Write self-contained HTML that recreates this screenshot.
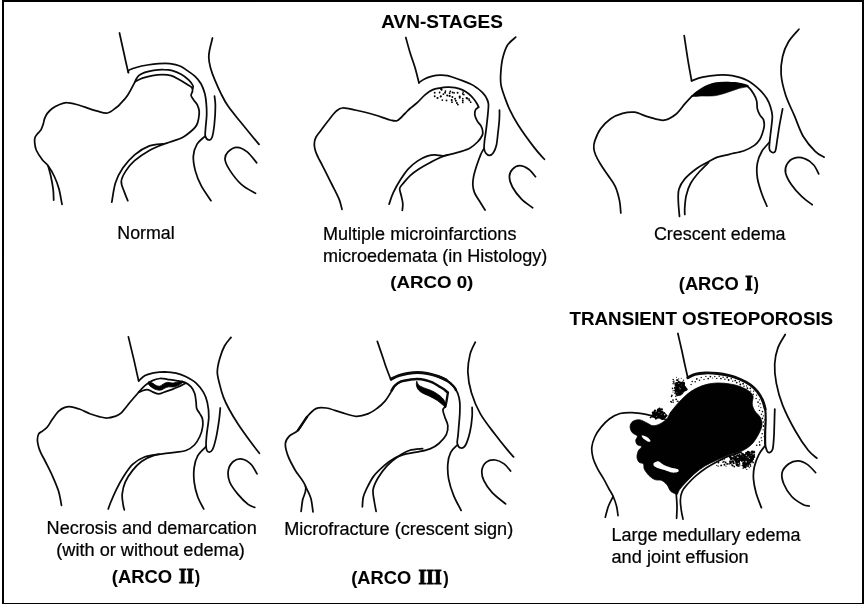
<!DOCTYPE html>
<html><head><meta charset="utf-8"><title>AVN-Stages</title>
<style>
html,body{margin:0;padding:0;background:#fff;}
body{width:866px;height:604px;overflow:hidden;position:relative;font-family:"Liberation Sans",sans-serif;color:#000;}
svg{position:absolute;left:0;top:0;will-change:transform;opacity:0.999;}
.t{position:absolute;white-space:nowrap;line-height:1;color:#0a0a0a;}
.b{font-weight:bold;}
.r{font-family:"Liberation Serif",serif;font-weight:bold;}
</style></head><body>
<svg width="866" height="604" viewBox="0 0 866 604">
<rect x="0" y="0" width="866" height="604" fill="#fff"/>
<path d="M3 604V1H863V603.9H3" fill="none" stroke="#000" stroke-width="2"/>
<g fill="none" stroke="#0a0a0a" stroke-width="1.75" stroke-linecap="round" stroke-linejoin="round">
<!-- hip1 -->
<path d="M119.5 33.0C120.2 36.2 122.3 45.9 123.8 52.5C125.2 59.1 127.5 69.2 128.3 72.6"/>
<path d="M128.5 72.4C128.6 72.0 127.6 71.0 128.9 70.2C130.2 69.4 133.1 68.4 136.2 67.5C139.3 66.6 143.7 65.6 147.4 65.0C151.2 64.4 154.9 63.9 158.7 63.7C162.4 63.5 166.4 63.3 169.9 63.7C173.4 64.1 177.0 64.8 179.9 66.0C182.8 67.2 184.8 68.9 187.3 70.6C189.8 72.3 192.5 74.0 194.8 76.2C197.1 78.4 199.3 80.8 201.0 83.7C202.7 86.6 203.9 90.3 204.8 93.6C205.7 96.9 206.0 100.1 206.3 103.6C206.6 107.1 206.8 110.7 206.7 114.8C206.6 118.9 205.8 124.5 205.6 128.0C205.4 131.5 204.8 134.0 205.3 136.0C205.8 138.0 207.6 139.8 208.8 140.0C209.9 140.2 211.1 140.0 212.0 137.5C212.9 135.0 213.7 130.2 214.3 125.0C214.9 119.8 215.4 110.9 215.4 106.1C215.4 101.3 214.7 97.8 214.5 96.1"/>
<path d="M135.4 80.6C135.9 79.8 137.1 77.0 138.7 75.6C140.3 74.2 142.4 73.3 144.9 72.4C147.4 71.5 150.6 70.8 153.7 70.3C156.8 69.8 160.5 69.5 163.6 69.6C166.7 69.6 169.5 69.8 172.4 70.6C175.3 71.4 178.4 72.8 181.1 74.3C183.8 75.8 186.6 78.0 188.6 79.9C190.6 81.8 192.2 84.0 192.9 85.5C193.6 87.0 192.7 88.2 192.7 88.7"/>
<path d="M135.0 81.8C133.8 84.1 130.0 91.8 127.5 95.5C125.0 99.2 121.9 102.2 120.0 104.2C118.1 106.2 118.3 106.0 116.2 107.5C114.2 109.0 110.6 112.4 107.5 113.0C104.4 113.6 100.4 111.9 97.5 111.2C94.6 110.6 93.2 109.9 90.0 108.9C86.8 107.9 82.4 106.0 78.5 105.0C74.6 104.0 69.9 102.6 66.7 102.6C63.5 102.5 61.5 103.7 59.1 104.7C56.7 105.7 54.2 107.0 52.2 108.5C50.2 110.0 48.6 111.7 47.3 113.4C46.0 115.1 45.3 116.8 44.6 118.6C43.9 120.4 43.8 122.3 43.2 124.1C42.6 125.9 42.0 128.0 41.1 129.6C40.2 131.2 38.6 132.4 37.6 133.6C36.6 134.8 35.7 135.7 35.2 137.0C34.7 138.3 34.4 139.3 34.6 141.5C34.8 143.7 34.9 146.9 36.2 150.0C37.6 153.1 40.5 157.4 42.5 160.0C44.5 162.6 46.1 163.0 48.1 165.8C50.1 168.6 52.8 173.1 54.6 177.0C56.4 180.9 57.8 184.4 59.0 189.0C60.2 193.6 61.5 201.8 62.0 204.3"/>
<path d="M48.1 165.8C48.6 167.7 50.2 173.2 51.0 177.0C51.8 180.8 52.6 185.1 53.1 188.9C53.6 192.8 53.6 198.2 53.7 200.1"/>
<path d="M135.0 81.8C136.2 81.2 139.5 79.1 142.4 78.1C145.3 77.1 149.1 76.2 152.4 75.6C155.7 75.0 159.3 74.7 162.4 74.7C165.5 74.7 168.4 74.8 171.1 75.6C173.8 76.4 176.1 77.9 178.6 79.3C181.1 80.7 183.9 82.3 186.1 83.7C188.3 85.1 190.6 86.2 191.7 87.4C192.8 88.6 192.6 89.8 192.5 91.1C192.4 92.4 190.9 94.0 191.1 95.5C191.3 97.0 192.6 98.3 193.6 99.9C194.6 101.5 196.4 103.0 197.3 104.9C198.2 106.8 199.0 108.8 199.2 111.1C199.4 113.4 199.0 116.3 198.6 118.6C198.2 120.9 197.7 123.1 196.7 125.0C195.7 126.9 194.9 127.9 192.5 130.0C190.1 132.1 186.2 135.5 182.5 137.5C178.8 139.5 173.0 140.9 170.0 142.0C167.0 143.1 167.7 142.5 164.3 143.9C160.9 145.3 154.4 147.6 149.4 150.4C144.4 153.2 138.5 157.2 134.6 160.7C130.7 164.1 127.9 167.6 125.7 171.1C123.5 174.6 121.5 178.0 121.3 181.5C121.1 185.0 123.2 188.7 124.3 191.9C125.4 195.1 127.2 199.2 127.8 200.7"/>
<path d="M162.8 143.9C160.6 144.2 154.1 144.1 149.4 145.9C144.7 147.7 139.0 151.1 134.6 154.8C130.2 158.5 126.0 163.4 122.8 168.1C119.6 172.8 117.2 177.3 115.4 183.0C113.6 188.7 112.4 199.0 111.8 202.2"/>
<path d="M212.5 38.0C212.0 40.0 210.2 46.8 209.6 50.0C209.0 53.2 208.7 54.6 208.8 57.5C208.9 60.4 209.4 63.8 210.4 67.5C211.4 71.2 213.0 75.6 214.8 79.9C216.6 84.2 218.8 89.2 221.0 93.6C223.2 98.0 224.7 101.3 228.0 106.1C231.3 110.9 235.8 116.1 241.0 122.5C246.2 128.9 256.0 140.8 259.0 144.4"/>
<path d="M205.3 136.0C203.9 137.4 198.9 141.0 196.9 144.4C194.9 147.8 193.6 151.9 193.3 156.3C193.1 160.8 194.1 166.2 195.4 171.1C196.7 176.0 198.7 181.0 201.3 185.9C203.9 190.8 209.4 198.2 211.0 200.7"/>
<path d="M256.7 162.8C255.1 161.0 250.5 154.5 247.2 151.9C243.9 149.3 240.1 147.4 236.9 147.4C233.7 147.4 230.0 149.9 228.0 151.9C226.0 153.9 224.8 156.4 225.0 159.3C225.2 162.2 226.7 165.4 229.4 169.6C232.1 173.8 237.0 180.4 241.3 184.4C245.7 188.4 253.1 191.8 255.5 193.3"/>
<!-- hip2 -->
<path d="M405.8 37.5C406.5 40.0 408.5 47.5 410.0 52.5C411.5 57.5 413.5 62.4 415.0 67.5C416.5 72.6 418.3 80.4 419.0 83.0"/>
<path d="M418.9 82.6C419.9 81.9 422.8 79.8 425.0 78.7C427.2 77.6 429.9 76.8 432.4 76.2C434.9 75.6 437.4 75.3 439.9 75.2C442.4 75.1 445.1 75.2 447.4 75.6C449.7 76.0 451.1 76.7 453.6 77.5C456.1 78.3 459.5 79.5 462.4 80.6C465.3 81.7 468.6 83.0 471.1 84.3C473.6 85.5 475.4 86.8 477.3 88.1C479.2 89.4 480.8 90.9 482.3 92.4C483.8 94.0 485.1 95.5 486.1 97.4C487.1 99.3 488.1 100.9 488.4 103.6C488.7 106.3 488.2 110.1 487.9 113.6C487.6 117.1 487.1 121.2 486.7 124.8C486.3 128.4 485.8 132.4 485.4 135.0C485.0 137.6 484.8 138.2 484.6 140.4C484.4 142.6 483.9 146.2 484.1 148.3C484.3 150.4 484.8 151.8 485.7 153.0C486.6 154.2 488.1 155.4 489.3 155.4C490.6 155.4 492.0 154.7 493.2 153.0C494.4 151.3 495.6 148.6 496.4 145.2C497.2 141.8 497.5 136.8 498.0 132.6C498.5 128.4 499.1 123.8 499.3 120.0C499.6 116.2 499.5 111.7 499.5 110.0"/>
<path d="M478.6 107.1C478.4 106.6 478.1 105.7 477.3 104.3C476.5 102.9 475.1 100.5 473.6 98.7C472.2 96.9 470.5 95.2 468.6 93.7C466.7 92.2 464.7 90.9 462.4 89.9C460.1 88.9 457.4 88.2 454.9 87.7C452.4 87.2 449.9 87.1 447.4 87.2C444.9 87.3 442.4 87.6 439.9 88.1C437.4 88.5 434.9 88.8 432.4 89.9C429.9 91.0 427.5 92.8 425.0 94.9C422.5 97.0 420.0 100.1 417.5 102.4C415.0 104.7 412.1 106.7 410.0 108.5C407.9 110.3 407.1 111.5 405.0 113.5C402.9 115.5 400.0 119.4 397.5 120.5C395.0 121.6 393.8 120.9 390.0 120.0C386.2 119.1 380.8 116.7 375.0 115.0C369.2 113.3 360.4 111.2 355.0 110.0C349.6 108.8 345.6 107.8 342.5 108.0C339.4 108.2 338.5 109.2 336.2 111.2C334.0 113.2 331.2 116.9 328.8 120.0C326.2 123.1 323.4 127.1 321.2 130.0C319.1 132.9 317.0 135.2 315.8 137.5C314.6 139.8 314.4 141.8 314.3 144.0C314.2 146.2 314.7 148.2 315.3 150.5C315.9 152.8 316.9 154.9 318.2 157.5C319.4 160.1 320.6 161.9 322.8 166.3C325.1 170.7 329.0 178.6 331.7 184.0C334.4 189.4 337.3 194.7 339.0 198.9C340.7 203.1 341.5 207.6 342.0 209.3"/>
<path d="M478.6 107.1C478.1 107.6 476.1 108.6 475.5 109.9C474.9 111.2 474.5 113.0 474.8 114.9C475.1 116.8 476.2 119.2 477.3 121.1C478.4 123.0 480.2 124.4 481.1 126.1C482.0 127.8 482.5 129.5 482.7 131.1C482.9 132.7 483.1 133.7 482.2 135.5C481.3 137.3 479.6 139.9 477.5 142.0C475.4 144.1 472.8 146.6 469.7 148.3C466.6 150.0 462.0 151.1 458.6 152.2C455.2 153.2 451.8 154.0 449.2 154.6C446.6 155.2 445.3 155.8 442.9 155.9C440.5 156.0 437.6 154.9 435.0 154.9C432.4 154.9 430.1 155.2 427.2 156.2C424.3 157.2 420.8 158.8 417.7 160.9C414.6 163.0 411.2 165.7 408.3 168.8C405.4 172.0 402.9 175.9 400.4 179.8C397.9 183.7 395.3 188.4 393.4 192.4C391.5 196.4 389.8 202.2 389.1 204.1"/>
<path d="M447.6 154.9C446.3 155.4 442.7 156.4 439.8 157.7C436.9 159.0 433.7 160.7 430.3 162.5C426.9 164.3 422.7 166.6 419.3 168.8C415.9 171.0 412.5 173.5 409.9 175.8C407.3 178.2 405.3 180.8 403.6 182.9C401.9 185.0 400.1 186.3 399.7 188.4C399.3 190.5 400.7 193.0 401.2 195.5C401.7 198.0 402.6 200.9 402.8 203.4C403.0 205.9 402.4 209.2 402.3 210.4"/>
<path d="M515.7 37.2C514.3 38.5 509.6 41.7 507.4 45.2C505.2 48.8 503.7 54.0 502.6 58.5C501.5 63.0 501.1 68.1 500.8 72.5C500.5 76.9 500.3 80.8 501.0 84.9C501.7 89.1 503.3 93.2 504.8 97.4C506.3 101.6 507.6 105.3 509.8 109.9C512.0 114.5 514.0 118.5 518.0 124.8C522.0 131.1 529.7 141.7 534.1 147.4C538.5 153.2 542.7 157.3 544.4 159.3"/>
<path d="M484.1 148.3C483.5 149.4 481.9 151.7 480.7 154.6C479.5 157.5 477.9 161.9 476.7 165.6C475.5 169.3 474.2 173.4 473.6 176.6C473.0 179.8 472.7 181.9 472.8 184.5C472.9 187.1 473.2 189.4 474.4 192.3C475.6 195.2 478.1 198.9 479.9 201.8C481.7 204.8 484.2 208.6 485.1 210.0"/>
<path d="M535.5 176.7C534.4 175.5 531.3 171.1 528.7 169.3C526.1 167.5 522.5 165.7 519.8 165.7C517.1 165.7 514.1 167.5 512.4 169.3C510.7 171.1 509.4 173.8 509.4 176.7C509.4 179.6 510.4 183.3 512.4 187.0C514.4 190.7 517.9 195.4 521.3 198.9C524.7 202.4 530.7 206.3 532.6 207.8"/>
<!-- hip3 -->
<path d="M684.2 35.7C684.8 39.7 686.6 51.9 687.8 59.4C689.0 66.9 691.0 77.2 691.6 80.8"/>
<path d="M691.6 80.8C693.4 80.2 698.3 78.2 702.6 77.2C706.9 76.2 712.5 75.3 717.4 75.1C722.3 74.8 727.3 74.8 732.2 75.7C737.1 76.6 742.5 78.0 747.0 80.2C751.5 82.4 755.6 86.0 758.9 89.1C762.2 92.1 764.9 95.5 766.8 98.5C768.7 101.5 769.6 104.1 770.5 107.0C771.4 109.9 772.1 112.7 772.3 115.7C772.5 118.7 771.9 121.8 771.6 125.0C771.3 128.2 770.8 131.1 770.4 135.0C770.0 138.9 769.1 145.5 769.3 148.3C769.4 151.1 770.3 151.4 771.3 151.9C772.3 152.4 774.2 153.4 775.2 151.3C776.2 149.2 776.6 143.9 777.3 139.4C778.0 134.9 778.7 129.7 779.6 124.6C780.5 119.5 782.1 111.5 782.6 108.9"/>
<path d="M691.6 96.5C690.5 97.7 687.4 100.9 684.8 103.9C682.2 106.9 679.3 111.6 675.9 114.3C672.5 117.0 668.5 119.7 664.1 120.2C659.7 120.7 654.2 118.5 649.3 117.2C644.3 115.9 638.8 112.8 634.4 112.2C630.0 111.6 626.5 112.3 622.6 113.4C618.7 114.5 614.4 116.1 610.7 118.7C607.0 121.3 603.0 125.4 600.4 129.1C597.8 132.8 595.9 137.8 594.8 140.9C593.7 144.1 593.7 145.7 593.8 148.0C593.9 150.3 594.5 152.3 595.6 155.0C596.7 157.7 598.4 160.7 600.4 164.0C602.4 167.3 605.3 171.3 607.8 175.0C610.3 178.7 613.2 182.0 615.2 186.3C617.2 190.7 618.7 196.7 619.6 201.1C620.5 205.5 620.6 211.0 620.8 213.0"/>
<path d="M691.6 96.5C693.4 95.3 698.8 91.2 702.6 89.1C706.4 87.0 710.0 84.8 714.4 83.7C718.8 82.6 724.8 82.5 729.3 82.6C733.8 82.6 738.0 83.3 741.1 84.0C744.2 84.7 745.9 85.2 748.0 86.8C750.1 88.4 752.1 91.3 753.6 93.7C755.1 96.1 756.1 98.6 756.7 101.1C757.3 103.6 756.8 106.3 757.3 108.6C757.8 110.9 758.8 113.0 759.8 114.9C760.8 116.8 762.8 118.0 763.5 119.9C764.2 121.8 764.4 123.9 764.2 126.1C764.0 128.3 763.3 130.7 762.5 133.0C761.7 135.3 761.0 137.7 759.6 139.8C758.2 141.9 757.0 143.6 754.4 145.4C751.8 147.2 748.3 149.2 744.1 150.7C739.9 152.2 733.8 153.2 729.3 154.3C724.8 155.4 720.9 156.0 717.4 157.2C713.9 158.4 712.0 159.8 708.5 161.7C705.0 163.6 700.7 165.6 696.7 168.5C692.8 171.4 687.8 175.4 684.8 178.9C681.8 182.4 680.0 185.6 678.9 189.3C677.8 193.0 678.2 196.6 678.3 201.1C678.4 205.6 679.3 213.9 679.5 216.5"/>
<path d="M708.5 162.6C707.0 164.1 702.6 168.1 699.6 171.5C696.6 174.9 692.9 179.4 690.7 183.3C688.5 187.2 687.3 191.2 686.3 195.2C685.3 199.1 685.0 203.8 684.8 207.0C684.5 210.2 684.8 213.2 684.8 214.4"/>
<path d="M692.2 95.8C692.2 94.4 698.9 89.7 702.6 87.6C706.3 85.5 710.0 84.0 714.4 83.1C718.8 82.2 724.8 82.3 729.3 82.4C733.8 82.5 737.9 82.9 741.1 83.5C744.3 84.1 749.0 85.2 748.5 86.1C748.0 87.0 741.8 87.6 738.1 88.7C734.4 89.8 730.2 91.6 726.3 92.8C722.3 94.0 718.3 95.3 714.4 95.8C710.5 96.3 706.3 96.0 702.6 96.0C698.9 96.0 692.2 97.2 692.2 95.8Z" fill="#000" stroke="#000" stroke-width="0.6"/>
<path d="M798.9 29.2C797.2 31.3 791.2 37.2 788.5 41.7C785.8 46.2 783.8 51.1 782.6 56.5C781.4 61.9 780.6 67.9 781.1 74.3C781.6 80.7 783.4 88.1 785.6 95.0C787.8 101.9 791.5 108.8 794.4 115.7C797.3 122.6 799.8 130.6 803.3 136.5C806.8 142.4 811.7 147.9 815.2 151.3C818.7 154.8 822.6 156.2 824.1 157.2"/>
<path d="M769.3 142.4C768.1 143.9 763.9 147.9 761.9 151.3C759.9 154.8 758.1 158.7 757.4 163.1C756.6 167.5 756.6 172.8 757.4 178.0C758.1 183.2 760.3 189.3 761.9 194.0C763.5 198.7 766.1 204.1 766.9 206.1"/>
<path d="M818.7 173.9C817.9 172.4 816.0 167.5 813.7 165.0C811.4 162.5 808.0 159.8 804.8 158.7C801.6 157.5 797.4 157.2 794.4 158.1C791.4 159.0 788.5 161.6 787.0 164.1C785.5 166.6 784.9 169.6 785.6 173.0C786.4 176.4 788.8 180.9 791.5 184.8C794.2 188.8 798.4 193.4 801.9 196.7C805.4 200.0 810.5 203.4 812.2 204.7"/>
<!-- hip4 -->
<path d="M128.4 336.9C129.3 340.8 132.4 353.3 134.1 360.6C135.8 367.9 137.8 377.5 138.6 380.9"/>
<path d="M138.7 381.0C139.8 380.1 142.5 377.0 145.0 375.6C147.5 374.2 150.4 373.4 153.7 372.8C157.0 372.2 161.2 371.8 164.9 371.8C168.6 371.9 172.6 372.3 176.1 373.1C179.6 373.9 182.8 375.1 186.1 376.8C189.4 378.5 193.2 380.5 196.1 383.1C199.0 385.7 201.6 389.2 203.5 392.4C205.4 395.6 206.4 398.3 207.3 402.4C208.2 406.5 208.9 411.5 208.8 416.9C208.7 422.3 207.1 429.7 206.7 434.6C206.2 439.5 205.9 443.6 206.1 446.5C206.3 449.4 207.0 451.3 208.1 451.8C209.2 452.3 211.3 451.8 212.6 449.4C213.9 447.0 215.0 442.5 216.1 437.6C217.2 432.7 218.4 424.7 219.1 419.8C219.8 414.9 220.1 410.0 220.3 408.0"/>
<path d="M138.7 392.2C137.2 393.9 132.8 399.0 129.8 402.5C126.9 406.0 123.5 410.8 121.0 413.1C118.5 415.4 117.1 415.6 114.8 416.4C112.5 417.2 109.8 417.9 107.3 418.0C104.8 418.1 102.7 417.5 99.8 416.8C96.9 416.1 93.2 414.9 89.9 413.7C86.6 412.4 83.0 410.4 79.9 409.3C76.8 408.2 73.6 407.1 71.1 406.8C68.6 406.5 67.0 406.7 64.9 407.4C62.8 408.1 60.8 409.2 58.7 411.2C56.6 413.2 54.3 416.7 52.4 419.3C50.5 421.9 49.1 424.8 47.5 426.8C45.9 428.8 44.0 429.9 42.5 431.1C41.0 432.3 39.6 432.3 38.7 433.8C37.9 435.3 37.4 437.6 37.4 439.9C37.4 442.1 38.1 445.0 38.7 447.3C39.3 449.6 40.1 451.2 41.2 453.6C42.4 456.1 43.7 458.2 45.6 462.0C47.5 465.8 50.5 471.4 52.6 476.3C54.8 481.2 57.0 486.3 58.5 491.1C60.0 495.9 61.0 502.9 61.5 505.3"/>
<path d="M138.7 392.2C139.7 391.1 142.6 387.5 144.9 385.6C147.2 383.7 149.9 381.8 152.4 380.6C154.9 379.4 157.4 378.7 159.9 378.5C162.4 378.3 164.7 378.9 167.4 379.3C170.1 379.7 173.2 380.1 176.1 380.6C179.0 381.1 182.3 381.4 184.8 382.4C187.3 383.4 189.4 384.9 191.1 386.8C192.8 388.7 194.0 391.1 194.8 393.7C195.6 396.3 195.8 399.9 196.1 402.4C196.4 404.9 196.1 406.7 196.7 408.6C197.3 410.5 198.9 411.9 199.8 413.6C200.8 415.3 201.9 416.6 202.4 418.8C202.9 421.0 203.0 424.1 202.6 427.0C202.2 429.9 201.2 433.5 199.8 436.5C198.4 439.5 196.7 442.7 194.4 445.0C192.1 447.3 190.3 449.1 185.9 450.5C181.5 451.9 173.5 452.3 168.1 453.2C162.7 454.1 157.7 454.2 153.3 455.6C148.9 457.0 144.9 459.0 141.5 461.5C138.1 464.0 135.3 466.9 132.6 470.4C129.9 473.8 126.9 478.2 125.2 482.2C123.5 486.1 122.6 490.4 122.2 494.1C121.8 497.8 122.8 501.8 123.1 504.4C123.4 507.0 124.1 508.9 124.3 509.8"/>
<path d="M159.3 454.1C156.8 454.6 148.9 455.3 144.4 457.0C139.9 458.7 136.0 461.2 132.6 464.4C129.2 467.6 126.4 472.1 123.7 476.3C121.0 480.5 118.5 485.2 116.3 489.6C114.1 494.1 111.7 499.8 110.4 503.0C109.1 506.2 108.7 507.9 108.3 508.9"/>
<path d="M138.7 392.2C140.0 391.8 144.5 389.8 146.8 389.7C149.1 389.6 150.4 391.1 152.4 391.8C154.4 392.5 156.6 393.9 158.7 393.9C160.8 393.9 162.6 392.6 164.9 391.8C167.2 391.0 170.1 390.1 172.4 389.3C174.7 388.5 176.4 387.8 178.6 386.8C180.8 385.8 184.3 383.7 185.5 383.1"/>
<path d="M148.7 382.0C149.3 381.8 151.2 382.5 152.4 383.1C153.7 383.7 154.9 385.1 156.2 385.6C157.4 386.1 158.7 386.5 159.9 386.2C161.1 385.9 162.3 384.5 163.6 383.9C164.8 383.3 165.9 382.5 167.4 382.4C168.9 382.3 171.0 383.1 172.4 383.1C173.8 383.1 174.4 382.7 176.1 382.4C177.8 382.1 181.4 381.2 182.5 381.2C183.6 381.2 183.2 381.9 182.5 382.6C181.8 383.3 179.5 384.9 178.0 385.6C176.5 386.3 175.2 386.7 173.6 386.9C172.0 387.1 170.0 386.6 168.6 386.8C167.2 387.0 166.1 387.5 164.9 388.0C163.7 388.5 162.6 389.7 161.2 390.0C159.8 390.3 157.8 390.1 156.2 389.6C154.6 389.1 152.8 388.1 151.6 387.2C150.3 386.3 149.2 385.4 148.7 384.5C148.2 383.6 148.1 382.2 148.7 382.0Z" fill="#000" stroke="#000" stroke-width="0.9"/>
<path d="M231.0 337.4C229.9 338.8 226.4 342.4 224.5 346.0C222.6 349.6 220.8 354.7 219.6 359.0C218.4 363.3 217.3 367.7 217.3 372.0C217.3 376.3 218.8 380.7 219.8 384.9C220.8 389.1 222.0 393.4 223.5 397.4C225.0 401.4 226.6 404.6 229.0 409.0C231.4 413.4 234.5 418.7 238.0 424.0C241.5 429.3 246.4 436.1 250.0 441.0C253.6 445.9 257.8 451.2 259.4 453.2"/>
<path d="M206.1 446.5C204.7 448.0 199.8 452.1 197.8 455.6C195.8 459.1 194.8 463.0 194.2 467.4C193.6 471.8 193.6 477.3 194.2 482.2C194.8 487.1 196.2 492.6 197.8 497.0C199.4 501.4 202.7 506.9 203.7 508.9"/>
<path d="M257.0 473.9C256.0 472.3 253.6 466.9 251.1 464.4C248.6 461.9 245.2 459.6 242.2 459.1C239.2 458.6 235.6 459.6 233.3 461.5C231.0 463.4 228.9 466.9 228.3 470.4C227.7 473.8 228.2 478.2 229.8 482.2C231.4 486.1 234.8 490.4 237.8 494.1C240.9 497.8 245.3 502.2 248.1 504.4C250.9 506.6 253.6 506.9 254.7 507.4"/>
<!-- hip5 -->
<path d="M377.3 341.3C378.4 344.4 382.2 355.6 383.7 360.0C385.2 364.4 385.0 364.2 386.2 367.5C387.4 370.8 390.1 377.7 390.9 379.7"/>
<path d="M391.2 379.1C392.4 378.5 396.0 376.5 398.7 375.6C401.4 374.7 404.3 374.0 407.4 373.5C410.5 373.0 414.1 372.5 417.4 372.5C420.7 372.5 424.1 372.9 427.4 373.5C430.7 374.1 434.2 375.1 437.3 376.2C440.4 377.3 444.6 379.4 446.1 380.0" stroke-width="3.0"/>
<path d="M437.3 376.2C438.8 376.8 443.4 378.3 446.1 380.0C448.8 381.7 451.9 384.5 453.5 386.2C455.1 387.9 455.6 389.4 456.0 390.0" stroke-width="2.4"/>
<path d="M446.1 380.0C447.3 381.0 451.5 383.9 453.5 386.2C455.5 388.5 456.8 391.0 457.9 393.7C458.9 396.4 459.5 399.1 459.8 402.4C460.1 405.7 460.1 408.2 459.8 413.6C459.5 419.0 458.5 429.6 458.1 434.6C457.7 439.6 456.8 441.3 457.3 443.5C457.8 445.7 459.7 447.8 461.1 448.0C462.5 448.2 464.1 447.7 465.6 445.0C467.1 442.3 468.9 436.4 470.0 431.7C471.1 427.0 471.8 420.9 472.1 416.9C472.5 412.8 472.1 409.0 472.1 407.4"/>
<path d="M391.6 390.5C392.2 389.7 393.3 387.1 394.9 385.6C396.5 384.1 398.7 382.4 401.2 381.4C403.7 380.4 407.2 380.1 409.9 379.7C412.6 379.3 414.9 378.9 417.4 379.0C419.9 379.1 422.4 379.4 424.9 380.0C427.4 380.6 429.8 381.3 432.3 382.4C434.8 383.5 437.7 385.6 439.8 386.8C441.9 388.1 443.5 388.9 444.8 389.9C446.1 390.9 447.4 392.2 447.9 392.7" stroke-width="2.5"/>
<path d="M447.9 392.7C447.6 394.3 446.8 400.0 446.3 402.4C445.9 404.8 445.4 406.1 445.2 406.8" stroke-width="2.3"/>
<path d="M445.2 406.8C444.8 407.3 443.0 408.2 442.9 409.9C442.8 411.6 444.0 414.3 444.8 416.9C445.6 419.5 447.6 422.8 447.8 425.7C448.1 428.6 447.8 431.6 446.3 434.6C444.8 437.6 441.6 441.1 438.9 443.5C436.2 445.9 433.5 447.5 430.0 448.9C426.5 450.3 422.1 451.0 418.1 451.8C414.2 452.6 410.2 452.8 406.3 453.9C402.4 455.0 398.1 456.3 394.4 458.3C390.7 460.3 387.6 462.7 384.1 465.7C380.7 468.7 376.7 472.2 373.7 476.1C370.7 480.1 368.0 485.9 366.3 489.4C364.6 492.9 364.0 494.1 363.3 497.0C362.6 499.9 362.5 505.2 362.4 506.8"/>
<path d="M416.8 381.4C417.2 381.4 417.5 383.8 418.6 384.9C419.7 385.9 421.5 386.8 423.6 387.7C425.7 388.6 428.8 389.5 431.1 390.5C433.4 391.5 435.4 392.6 437.3 393.9C439.2 395.1 441.1 396.7 442.3 398.0C443.6 399.3 444.2 400.3 444.8 401.8C445.4 403.3 446.2 406.6 445.8 407.1C445.4 407.6 443.7 405.7 442.3 404.6C440.9 403.5 439.4 401.9 437.3 400.5C435.2 399.1 432.4 397.6 429.9 396.4C427.4 395.1 424.4 394.2 422.4 393.0C420.4 391.8 419.0 390.7 418.0 389.3C417.0 387.9 416.6 386.2 416.4 384.9C416.2 383.6 416.4 381.4 416.8 381.4Z" fill="#000" stroke="#000" stroke-width="0.8"/>
<path d="M401.2 381.4C400.1 382.1 396.8 383.6 394.9 385.6C393.0 387.7 391.6 391.1 390.0 393.7C388.4 396.3 387.1 398.7 385.0 401.1C382.9 403.5 380.4 405.9 377.5 408.0C374.6 410.1 371.4 412.5 367.8 413.9C364.2 415.3 360.3 416.6 355.9 416.3C351.4 416.1 346.0 413.8 341.1 412.4C336.2 411.0 330.5 408.6 326.3 408.0C322.1 407.4 319.1 407.1 315.9 408.6C312.7 410.1 310.0 413.3 307.0 416.9C304.0 420.5 301.1 427.0 298.1 430.2C295.2 433.4 291.4 433.9 289.3 436.1C287.2 438.3 285.6 440.3 285.4 443.5C285.1 446.7 286.2 450.9 287.8 455.4C289.4 459.8 292.2 465.0 295.2 470.2C298.2 475.4 304.4 481.7 305.6 486.7C306.8 491.7 303.4 495.9 302.6 500.0C301.9 504.1 301.4 509.4 301.1 511.3"/>
<path d="M307.0 416.9L298.1 430.2" stroke-width="2.4"/>
<path d="M305.6 486.7C306.5 488.7 309.7 494.3 310.9 498.5C312.1 502.7 312.6 509.7 313.0 511.9"/>
<path d="M422.6 448.7C420.4 449.0 413.5 449.1 409.3 450.5C405.1 451.9 401.1 454.4 397.4 457.0C393.7 459.6 390.2 462.4 387.0 465.9C383.8 469.4 380.4 473.9 378.1 477.8C375.8 481.8 373.7 485.7 373.1 489.6C372.5 493.6 373.8 497.9 374.3 501.5C374.8 505.1 375.8 509.7 376.1 511.3"/>
<path d="M475.3 342.2C474.4 344.3 471.2 349.6 470.0 354.6C468.8 359.6 467.6 366.0 467.9 372.4C468.1 378.8 469.4 386.2 471.5 393.1C473.6 400.0 476.4 407.0 480.4 413.9C484.3 420.8 490.8 428.7 495.2 434.6C499.6 440.5 503.9 445.7 507.0 449.4C510.1 453.1 512.5 455.6 513.6 456.9"/>
<path d="M457.3 445.0C456.2 446.2 452.3 449.2 450.7 452.4C449.1 455.6 448.1 459.8 447.8 464.3C447.5 468.8 447.7 474.1 448.7 479.3C449.7 484.5 451.6 490.4 453.7 495.6C455.8 500.8 459.9 507.9 461.1 510.4"/>
<path d="M510.6 471.0C509.5 469.8 506.7 465.7 504.1 463.9C501.5 462.1 498.2 460.3 495.2 460.0C492.2 459.7 488.5 460.4 486.3 462.1C484.1 463.8 482.3 467.3 481.9 470.4C481.5 473.5 482.2 477.0 483.9 480.7C485.6 484.4 488.6 488.7 492.2 492.6C495.8 496.5 503.4 502.0 505.6 503.9"/>
<!-- hip6 -->
<path d="M677.9 333.5C678.5 336.2 680.6 345.2 681.7 350.0C682.8 354.8 683.3 357.6 684.3 362.2C685.3 366.8 687.2 375.2 687.8 377.8"/>
<path d="M687.8 377.8C689.0 377.2 691.9 375.1 694.8 374.3C697.7 373.5 701.4 373.1 705.2 373.0C709.0 372.9 713.3 373.1 717.4 373.5C721.5 373.9 725.8 374.8 729.6 375.7C733.4 376.6 736.5 377.7 740.0 379.2C743.5 380.7 747.5 382.7 750.4 384.8C753.3 386.9 755.4 389.1 757.4 391.7C759.4 394.3 761.3 397.5 762.6 400.4C763.9 403.3 764.8 407.7 765.2 409.1" stroke-width="2.8"/>
<path d="M762.6 400.4C763.0 401.8 764.7 405.9 765.2 409.1C765.7 412.3 765.7 415.8 765.7 419.6C765.7 423.4 765.3 427.6 765.2 431.7C765.1 435.8 765.2 441.9 765.2 443.9" stroke-width="2.1"/>
<path d="M765.2 431.7C765.2 433.7 764.9 440.7 765.2 443.9C765.5 447.1 766.3 449.4 767.0 450.9C767.7 452.3 768.6 452.9 769.6 452.6C770.6 452.3 772.0 451.7 772.7 449.1C773.4 446.5 773.6 441.4 773.9 437.0C774.2 432.6 774.2 427.6 774.4 423.0C774.5 418.4 774.7 411.4 774.8 409.1"/>
<path d="M670.4 412.6C672.1 410.1 674.8 406.8 677.4 403.9C680.0 401.0 683.2 397.7 686.1 395.2C689.0 392.7 691.6 390.8 694.8 389.1C698.0 387.4 701.4 385.8 705.2 384.8C709.0 383.8 713.3 383.1 717.4 383.0C721.5 382.9 725.8 383.3 729.6 383.9C733.4 384.5 736.8 385.3 740.0 386.5C743.2 387.7 746.5 389.3 748.7 390.9C750.9 392.5 752.4 393.9 753.0 396.1C753.6 398.3 751.9 401.4 752.2 403.9C752.5 406.4 753.5 408.7 754.8 410.9C756.1 413.1 758.8 414.7 760.0 417.0C761.2 419.3 762.2 422.0 762.0 424.8C761.8 427.6 760.4 430.6 758.7 433.9C757.0 437.1 754.6 441.4 751.7 444.3C748.8 447.2 745.1 449.6 741.3 451.3C737.5 453.1 733.1 453.4 729.1 454.8C725.1 456.2 721.0 458.1 717.0 460.0C713.0 461.9 708.6 463.8 704.8 466.1C701.0 468.4 697.5 471.1 694.3 473.9C691.1 476.6 688.2 480.0 685.7 482.6C683.2 485.2 681.1 487.6 679.6 489.6C678.1 491.6 677.8 494.2 677.0 494.8C676.2 495.4 675.9 494.1 674.8 493.5C673.7 492.9 671.7 492.3 670.4 490.9C669.1 489.4 668.5 486.6 667.0 484.8C665.5 483.1 663.7 481.3 661.7 480.4C659.7 479.5 657.0 480.5 654.8 479.6C652.6 478.7 650.5 476.9 648.7 475.2C647.0 473.4 645.2 471.0 644.3 469.1C643.4 467.2 644.4 465.0 643.5 463.9C642.6 462.8 640.2 463.3 639.1 462.2C638.0 461.1 637.1 458.9 637.0 457.0C636.9 455.1 637.5 452.6 638.3 450.9C639.1 449.1 641.9 447.5 641.7 446.5C641.6 445.5 638.4 445.8 637.4 444.8C636.4 443.8 635.7 441.8 635.7 440.4C635.7 438.9 638.0 437.4 637.4 436.1C636.8 434.8 633.4 434.2 632.2 432.6C631.0 431.0 630.0 428.4 630.1 426.5C630.2 424.6 631.4 422.4 633.0 421.3C634.6 420.2 637.7 419.6 640.0 419.9C642.3 420.2 644.8 422.0 647.0 423.0C649.2 424.0 650.8 425.6 653.0 425.7C655.2 425.8 657.7 425.1 660.0 423.9C662.3 422.7 665.3 420.6 667.0 418.7C668.7 416.8 668.7 415.1 670.4 412.6Z" fill="#000" stroke="#000" stroke-width="0.8"/>
<path d="M667.0 419.8C665.2 419.3 660.0 417.9 656.5 417.0C653.0 416.1 650.1 415.0 646.1 414.3C642.1 413.6 636.6 412.7 632.2 412.6C627.9 412.5 623.8 412.5 620.0 413.5C616.2 414.5 612.8 416.4 609.6 418.7C606.4 421.0 603.4 424.3 600.9 427.4C598.4 430.4 596.3 433.7 594.8 437.0C593.3 440.3 592.1 443.9 591.8 447.4C591.5 450.9 592.1 454.3 593.0 457.8C593.9 461.3 595.6 464.8 597.4 468.3C599.1 471.8 601.6 475.4 603.5 478.7C605.4 482.0 606.9 485.0 608.5 488.0C610.1 491.0 611.9 493.5 613.2 496.5C614.5 499.5 615.7 502.8 616.5 506.0C617.3 509.2 617.8 514.0 618.0 515.6" stroke-width="1.7"/>
<path d="M613.2 496.5C612.4 498.1 609.8 502.6 608.5 506.0C607.2 509.4 605.8 515.3 605.3 517.2"/>
<path d="M741.0 452.3C739.0 452.9 733.1 454.3 729.1 455.9C725.1 457.5 720.8 459.7 717.0 461.7C713.2 463.7 710.0 465.5 706.5 467.8C703.0 470.1 699.3 472.9 696.1 475.7C692.9 478.4 689.7 481.7 687.4 484.3C685.1 486.9 683.4 488.7 682.2 491.3C681.0 493.9 680.5 496.8 680.4 500.0C680.2 503.2 680.9 507.2 681.3 510.4C681.7 513.6 682.7 517.6 683.0 519.1" stroke-width="1.7"/>
<path d="M676.3 494.8C676.4 496.8 677.0 503.1 677.0 507.0C677.0 510.9 676.7 516.4 676.6 518.3"/>
<path d="M785.2 334.5C784.0 336.7 779.6 343.0 777.9 347.9C776.1 352.8 775.0 358.0 774.7 363.9C774.4 369.8 775.0 376.2 776.3 383.1C777.6 390.0 779.5 397.4 782.7 405.4C785.9 413.4 791.1 423.5 795.4 431.0C799.6 438.5 804.6 445.7 808.2 450.2C811.8 454.7 815.5 456.9 816.9 458.2"/>
<path d="M765.2 445.5C764.1 447.1 760.5 451.2 758.7 454.8C756.9 458.4 755.2 462.9 754.3 467.0C753.4 471.1 753.2 474.8 753.5 479.1C753.8 483.4 754.8 488.2 756.1 493.0C757.4 497.8 760.5 505.2 761.4 507.6"/>
<path d="M815.6 472.6C814.3 471.3 810.5 466.6 807.6 464.6C804.7 462.6 801.3 460.9 798.1 460.8C794.9 460.7 791.2 462.0 788.5 464.0C785.8 466.0 782.9 469.3 782.1 472.6C781.3 475.9 782.1 479.7 783.7 483.7C785.3 487.7 788.5 493.0 791.7 496.5C794.9 500.0 800.0 502.9 802.9 504.5C805.8 506.1 808.2 505.8 809.2 506.0"/>
<path d="M641.7 435.6C642.1 435.2 644.7 435.8 646.1 436.6C647.5 437.4 650.0 439.5 650.4 440.4C650.8 441.3 649.9 442.1 648.7 441.8C647.6 441.5 644.7 439.7 643.5 438.7C642.3 437.7 641.3 436.0 641.7 435.6Z" fill="#fff" stroke="none"/>
<path d="M653.9 463.0C654.6 462.3 656.7 461.0 658.3 461.3C659.9 461.6 661.5 463.8 663.5 464.8C665.5 465.8 668.1 466.7 670.4 467.4C672.7 468.1 676.1 468.4 677.4 469.1C678.7 469.8 679.2 471.1 678.3 471.7C677.4 472.3 674.4 472.8 672.2 472.6C670.0 472.4 667.5 471.0 665.2 470.3C662.9 469.6 660.2 469.1 658.3 468.3C656.4 467.5 654.6 466.6 653.9 465.7C653.2 464.8 653.2 463.7 653.9 463.0Z" fill="#fff" stroke="none"/>
</g>
<g fill="#000" stroke="none"><circle cx="434.7" cy="92.8" r="0.93"/><circle cx="439.6" cy="92.5" r="0.89"/><circle cx="441.6" cy="89.7" r="1.01"/><circle cx="445.4" cy="91.1" r="0.87"/><circle cx="445.1" cy="92.8" r="0.98"/><circle cx="450.3" cy="91.4" r="0.94"/><circle cx="449.6" cy="93.2" r="0.86"/><circle cx="452.7" cy="92.5" r="0.98"/><circle cx="454.1" cy="92.8" r="0.86"/><circle cx="457.6" cy="92.8" r="0.96"/><circle cx="462.8" cy="93.9" r="0.87"/><circle cx="463.1" cy="92.1" r="0.87"/><circle cx="434.7" cy="96.3" r="0.96"/><circle cx="437.5" cy="98.0" r="1.06"/><circle cx="440.6" cy="96.6" r="0.88"/><circle cx="443.4" cy="94.2" r="0.91"/><circle cx="447.2" cy="95.6" r="1.01"/><circle cx="449.6" cy="95.9" r="1.09"/><circle cx="452.4" cy="97.0" r="0.99"/><circle cx="455.1" cy="98.7" r="0.95"/><circle cx="459.7" cy="96.6" r="1.09"/><circle cx="462.8" cy="98.7" r="0.86"/><circle cx="466.6" cy="98.0" r="1.06"/><circle cx="469.0" cy="99.1" r="0.92"/><circle cx="469.4" cy="100.4" r="0.89"/><circle cx="442.3" cy="100.1" r="0.88"/><circle cx="446.5" cy="100.4" r="0.93"/><circle cx="451.7" cy="100.1" r="1.05"/><circle cx="452.0" cy="102.2" r="0.90"/><circle cx="455.8" cy="100.8" r="1.00"/><circle cx="456.9" cy="102.9" r="1.01"/><circle cx="457.9" cy="104.6" r="0.94"/><circle cx="462.8" cy="100.8" r="0.99"/><circle cx="462.8" cy="102.5" r="0.87"/><circle cx="470.7" cy="102.2" r="0.86"/><circle cx="463.8" cy="94.6" r="0.90"/><circle cx="441.1" cy="89.1" r="1.02"/><circle cx="459.7" cy="97.7" r="0.96"/><circle cx="440.9" cy="96.3" r="0.93"/><circle cx="467.3" cy="98.4" r="1.00"/><circle cx="678.2" cy="385.0" r="0.82"/><circle cx="682.4" cy="383.5" r="0.73"/><circle cx="682.9" cy="384.7" r="0.89"/><circle cx="672.5" cy="388.4" r="0.80"/><circle cx="673.1" cy="390.4" r="0.52"/><circle cx="675.8" cy="396.3" r="0.74"/><circle cx="680.4" cy="389.5" r="0.84"/><circle cx="686.6" cy="390.0" r="0.77"/><circle cx="671.5" cy="396.5" r="0.76"/><circle cx="675.3" cy="387.5" r="0.77"/><circle cx="673.4" cy="379.8" r="0.52"/><circle cx="683.6" cy="380.2" r="0.60"/><circle cx="677.1" cy="401.3" r="0.53"/><circle cx="678.1" cy="392.2" r="0.85"/><circle cx="675.2" cy="388.3" r="0.64"/><circle cx="673.1" cy="381.5" r="0.59"/><circle cx="674.5" cy="390.3" r="0.74"/><circle cx="677.6" cy="387.0" r="0.73"/><circle cx="679.3" cy="394.1" r="0.77"/><circle cx="671.4" cy="402.1" r="0.81"/><circle cx="677.2" cy="387.9" r="0.54"/><circle cx="681.3" cy="378.3" r="0.53"/><circle cx="674.0" cy="381.1" r="0.64"/><circle cx="673.1" cy="379.4" r="0.65"/><circle cx="670.9" cy="401.4" r="0.75"/><circle cx="673.0" cy="383.7" r="0.64"/><circle cx="676.7" cy="380.0" r="0.84"/><circle cx="678.7" cy="378.9" r="0.54"/><circle cx="676.3" cy="384.0" r="0.83"/><circle cx="673.0" cy="392.0" r="0.51"/><circle cx="674.9" cy="387.0" r="0.57"/><circle cx="683.6" cy="391.7" r="0.81"/><circle cx="676.1" cy="382.9" r="0.82"/><circle cx="683.1" cy="383.0" r="0.71"/><circle cx="676.5" cy="377.3" r="0.51"/><circle cx="675.3" cy="383.9" r="0.78"/><circle cx="686.8" cy="389.2" r="0.87"/><circle cx="676.7" cy="382.8" r="0.59"/><circle cx="673.8" cy="382.3" r="0.75"/><circle cx="678.7" cy="395.1" r="0.82"/><circle cx="671.9" cy="395.3" r="0.86"/><circle cx="678.6" cy="381.6" r="0.82"/><circle cx="676.2" cy="399.3" r="0.89"/><circle cx="677.2" cy="387.9" r="0.88"/><circle cx="682.8" cy="381.3" r="0.55"/><circle cx="673.1" cy="402.3" r="0.82"/><circle cx="673.0" cy="400.1" r="0.89"/><circle cx="681.7" cy="386.5" r="0.72"/><circle cx="677.9" cy="401.3" r="0.83"/><circle cx="674.1" cy="383.7" r="0.62"/><circle cx="674.6" cy="393.2" r="0.60"/><circle cx="677.6" cy="380.2" r="0.86"/><circle cx="676.5" cy="389.6" r="0.73"/><circle cx="685.9" cy="388.5" r="0.87"/><circle cx="679.0" cy="391.7" r="0.71"/><circle cx="683.8" cy="383.6" r="0.94"/><circle cx="683.0" cy="389.3" r="0.86"/><circle cx="680.7" cy="389.3" r="1.09"/><circle cx="676.2" cy="389.4" r="0.82"/><circle cx="678.0" cy="392.6" r="0.95"/><circle cx="681.2" cy="392.4" r="1.16"/><circle cx="679.9" cy="390.2" r="0.95"/><circle cx="680.6" cy="391.4" r="0.93"/><circle cx="680.9" cy="388.2" r="1.17"/><circle cx="684.2" cy="383.1" r="0.76"/><circle cx="679.9" cy="382.1" r="0.82"/><circle cx="675.8" cy="391.0" r="1.09"/><circle cx="682.9" cy="390.9" r="0.77"/><circle cx="677.4" cy="395.3" r="0.90"/><circle cx="684.2" cy="383.4" r="0.92"/><circle cx="680.7" cy="386.1" r="0.80"/><circle cx="678.5" cy="391.8" r="0.71"/><circle cx="681.1" cy="387.6" r="0.71"/><circle cx="678.6" cy="390.4" r="0.96"/><circle cx="676.2" cy="385.0" r="0.72"/><circle cx="683.6" cy="385.1" r="0.76"/><circle cx="679.6" cy="394.7" r="1.11"/><circle cx="677.8" cy="383.2" r="1.16"/><circle cx="681.3" cy="391.5" r="0.74"/><circle cx="675.6" cy="391.3" r="0.91"/><circle cx="682.0" cy="393.0" r="0.74"/><circle cx="684.5" cy="387.8" r="0.87"/><circle cx="677.9" cy="382.9" r="0.96"/><circle cx="677.6" cy="382.6" r="0.78"/><circle cx="678.4" cy="385.6" r="1.08"/><circle cx="678.2" cy="388.5" r="0.79"/><circle cx="683.1" cy="389.3" r="0.79"/><circle cx="676.2" cy="393.3" r="0.92"/><circle cx="680.4" cy="393.5" r="0.90"/><circle cx="680.6" cy="391.3" r="1.19"/><circle cx="678.8" cy="393.5" r="1.05"/><circle cx="682.0" cy="387.1" r="0.87"/><circle cx="675.8" cy="392.1" r="0.83"/><circle cx="682.4" cy="385.2" r="0.82"/><circle cx="678.2" cy="387.9" r="0.78"/><circle cx="679.9" cy="384.9" r="1.18"/><circle cx="678.4" cy="386.3" r="0.70"/><circle cx="679.2" cy="388.1" r="0.95"/><circle cx="677.2" cy="388.6" r="0.70"/><circle cx="677.6" cy="389.8" r="0.96"/><circle cx="683.3" cy="390.9" r="1.06"/><circle cx="684.7" cy="386.8" r="0.86"/><circle cx="683.0" cy="390.6" r="0.72"/><circle cx="681.9" cy="392.0" r="1.11"/><circle cx="676.5" cy="388.9" r="0.95"/><circle cx="684.1" cy="389.8" r="1.15"/><circle cx="682.5" cy="391.4" r="0.81"/><circle cx="679.0" cy="382.6" r="1.12"/><circle cx="681.1" cy="390.4" r="1.01"/><circle cx="682.5" cy="388.3" r="0.70"/><circle cx="680.5" cy="389.0" r="1.03"/><circle cx="675.7" cy="392.1" r="0.83"/><circle cx="675.8" cy="385.0" r="1.06"/><circle cx="677.3" cy="392.1" r="1.19"/><circle cx="680.4" cy="386.7" r="0.94"/><circle cx="682.5" cy="392.5" r="1.01"/><circle cx="682.1" cy="382.2" r="0.77"/><circle cx="677.8" cy="392.1" r="0.85"/><circle cx="675.7" cy="385.0" r="1.04"/><circle cx="682.6" cy="391.1" r="0.85"/><circle cx="680.7" cy="388.0" r="0.93"/><circle cx="676.3" cy="394.4" r="0.80"/><circle cx="675.2" cy="387.9" r="1.11"/><circle cx="685.6" cy="387.7" r="0.83"/><circle cx="677.3" cy="395.2" r="0.81"/><circle cx="659.5" cy="408.3" r="0.91"/><circle cx="664.1" cy="413.1" r="1.13"/><circle cx="661.9" cy="409.5" r="1.14"/><circle cx="657.1" cy="410.4" r="0.68"/><circle cx="655.0" cy="410.6" r="1.10"/><circle cx="666.1" cy="415.8" r="1.14"/><circle cx="659.7" cy="411.2" r="0.86"/><circle cx="650.4" cy="417.4" r="0.77"/><circle cx="653.5" cy="413.1" r="0.71"/><circle cx="665.3" cy="417.1" r="0.98"/><circle cx="658.9" cy="415.9" r="0.63"/><circle cx="662.4" cy="412.4" r="1.05"/><circle cx="660.7" cy="410.2" r="0.63"/><circle cx="657.5" cy="411.0" r="0.78"/><circle cx="662.5" cy="419.2" r="0.76"/><circle cx="661.0" cy="410.4" r="0.93"/><circle cx="653.4" cy="413.9" r="1.13"/><circle cx="662.7" cy="411.9" r="0.85"/><circle cx="658.5" cy="411.4" r="0.80"/><circle cx="658.1" cy="414.7" r="1.12"/><circle cx="664.6" cy="417.8" r="0.61"/><circle cx="655.9" cy="418.5" r="1.10"/><circle cx="661.5" cy="418.7" r="1.03"/><circle cx="660.8" cy="416.4" r="0.87"/><circle cx="666.0" cy="414.9" r="0.78"/><circle cx="660.6" cy="415.6" r="0.67"/><circle cx="659.6" cy="411.5" r="0.73"/><circle cx="654.2" cy="412.5" r="1.18"/><circle cx="660.7" cy="418.0" r="0.89"/><circle cx="666.8" cy="415.7" r="0.78"/><circle cx="661.3" cy="412.0" r="0.75"/><circle cx="661.2" cy="418.5" r="0.74"/><circle cx="656.5" cy="415.4" r="0.72"/><circle cx="663.6" cy="416.1" r="0.90"/><circle cx="654.4" cy="417.2" r="0.74"/><circle cx="652.7" cy="416.4" r="0.78"/><circle cx="656.4" cy="415.1" r="1.17"/><circle cx="661.1" cy="411.4" r="0.82"/><circle cx="664.1" cy="417.2" r="0.86"/><circle cx="655.6" cy="418.5" r="0.72"/><circle cx="655.4" cy="418.2" r="0.62"/><circle cx="656.3" cy="417.1" r="1.06"/><circle cx="653.4" cy="416.2" r="1.14"/><circle cx="653.5" cy="415.8" r="0.79"/><circle cx="662.9" cy="418.4" r="0.98"/><circle cx="652.9" cy="412.7" r="1.17"/><circle cx="657.9" cy="418.6" r="0.71"/><circle cx="663.7" cy="416.1" r="1.09"/><circle cx="663.2" cy="414.4" r="0.80"/><circle cx="654.6" cy="411.2" r="1.07"/><circle cx="659.0" cy="410.7" r="1.19"/><circle cx="662.0" cy="412.3" r="0.74"/><circle cx="656.4" cy="414.6" r="1.00"/><circle cx="662.7" cy="417.5" r="1.00"/><circle cx="650.8" cy="417.4" r="0.78"/><circle cx="659.3" cy="411.3" r="1.04"/><circle cx="665.3" cy="414.0" r="0.80"/><circle cx="658.1" cy="409.5" r="1.09"/><circle cx="664.1" cy="417.4" r="1.15"/><circle cx="653.4" cy="416.6" r="1.17"/><circle cx="660.3" cy="409.3" r="0.82"/><circle cx="653.3" cy="414.3" r="0.99"/><circle cx="654.7" cy="415.3" r="0.71"/><circle cx="663.6" cy="413.6" r="0.64"/><circle cx="659.0" cy="414.8" r="0.65"/><circle cx="651.6" cy="415.5" r="0.85"/><circle cx="659.3" cy="411.1" r="0.85"/><circle cx="656.6" cy="417.2" r="0.84"/><circle cx="659.0" cy="414.8" r="1.15"/><circle cx="655.5" cy="413.1" r="0.69"/><circle cx="653.9" cy="413.3" r="1.16"/><circle cx="663.8" cy="419.1" r="0.72"/><circle cx="655.9" cy="418.3" r="0.97"/><circle cx="656.2" cy="417.5" r="1.10"/><circle cx="656.1" cy="413.2" r="0.83"/><circle cx="745.3" cy="467.7" r="0.57"/><circle cx="738.3" cy="464.9" r="0.57"/><circle cx="750.1" cy="452.2" r="0.82"/><circle cx="737.8" cy="462.3" r="0.69"/><circle cx="732.2" cy="461.5" r="0.74"/><circle cx="742.4" cy="458.7" r="0.75"/><circle cx="735.2" cy="454.5" r="0.89"/><circle cx="747.6" cy="459.0" r="0.63"/><circle cx="745.6" cy="465.4" r="0.78"/><circle cx="749.1" cy="453.7" r="0.99"/><circle cx="753.4" cy="453.1" r="0.90"/><circle cx="754.0" cy="451.1" r="0.71"/><circle cx="746.6" cy="453.0" r="0.95"/><circle cx="726.0" cy="466.1" r="0.61"/><circle cx="735.9" cy="456.2" r="0.57"/><circle cx="752.5" cy="453.2" r="0.90"/><circle cx="741.5" cy="457.0" r="0.94"/><circle cx="738.0" cy="461.4" r="0.95"/><circle cx="741.2" cy="457.7" r="0.91"/><circle cx="739.0" cy="457.0" r="0.89"/><circle cx="749.3" cy="454.9" r="0.84"/><circle cx="742.6" cy="456.1" r="0.55"/><circle cx="740.6" cy="458.4" r="0.78"/><circle cx="752.5" cy="452.4" r="0.65"/><circle cx="723.9" cy="461.5" r="0.82"/><circle cx="723.0" cy="462.3" r="0.76"/><circle cx="718.4" cy="462.6" r="0.94"/><circle cx="747.7" cy="457.8" r="0.67"/><circle cx="738.3" cy="456.8" r="0.84"/><circle cx="745.6" cy="454.8" r="0.96"/><circle cx="716.8" cy="465.4" r="0.56"/><circle cx="740.3" cy="459.9" r="0.84"/><circle cx="749.0" cy="453.3" r="0.69"/><circle cx="750.4" cy="464.7" r="0.76"/><circle cx="746.0" cy="458.8" r="0.65"/><circle cx="746.3" cy="463.7" r="0.93"/><circle cx="744.7" cy="455.1" r="0.80"/><circle cx="732.9" cy="465.6" r="0.79"/><circle cx="725.6" cy="462.6" r="0.98"/><circle cx="724.4" cy="464.7" r="0.98"/><circle cx="746.2" cy="456.3" r="0.95"/><circle cx="753.1" cy="462.4" r="0.86"/><circle cx="734.3" cy="466.6" r="0.86"/><circle cx="750.9" cy="458.5" r="0.88"/><circle cx="738.7" cy="456.0" r="0.65"/><circle cx="753.2" cy="452.7" r="0.56"/><circle cx="743.9" cy="462.5" r="0.86"/><circle cx="739.5" cy="457.1" r="0.92"/><circle cx="749.3" cy="467.6" r="0.58"/><circle cx="754.6" cy="451.9" r="0.64"/><circle cx="750.5" cy="466.0" r="0.84"/><circle cx="749.5" cy="462.4" r="0.68"/><circle cx="746.6" cy="453.9" r="0.69"/><circle cx="744.9" cy="457.2" r="0.69"/><circle cx="750.7" cy="462.2" r="0.56"/><circle cx="731.9" cy="458.5" r="0.90"/><circle cx="729.1" cy="463.9" r="0.79"/><circle cx="718.2" cy="466.2" r="0.63"/><circle cx="746.8" cy="469.4" r="0.55"/><circle cx="735.3" cy="459.6" r="0.91"/><circle cx="722.2" cy="459.7" r="0.71"/><circle cx="749.8" cy="455.0" r="0.97"/><circle cx="744.2" cy="459.8" r="0.60"/><circle cx="747.9" cy="463.7" r="0.90"/><circle cx="741.1" cy="456.9" r="0.73"/><circle cx="735.7" cy="457.4" r="0.95"/><circle cx="724.3" cy="459.0" r="0.79"/><circle cx="746.5" cy="464.9" r="0.84"/><circle cx="729.2" cy="456.3" r="0.62"/><circle cx="750.3" cy="463.0" r="0.88"/><circle cx="747.3" cy="461.4" r="0.61"/><circle cx="727.2" cy="463.9" r="0.93"/><circle cx="745.6" cy="458.5" r="0.64"/><circle cx="748.1" cy="463.7" r="0.78"/><circle cx="741.3" cy="459.1" r="0.61"/><circle cx="740.1" cy="457.9" r="0.88"/><circle cx="753.1" cy="458.4" r="0.81"/><circle cx="746.3" cy="458.2" r="0.65"/><circle cx="745.1" cy="467.4" r="0.90"/><circle cx="744.2" cy="466.8" r="0.86"/><circle cx="741.7" cy="458.9" r="0.69"/><circle cx="732.2" cy="465.4" r="0.87"/><circle cx="741.2" cy="454.8" r="0.74"/><circle cx="733.7" cy="462.2" r="0.73"/><circle cx="743.1" cy="468.4" r="0.63"/><circle cx="742.2" cy="465.4" r="0.72"/><circle cx="721.2" cy="465.4" r="0.97"/><circle cx="738.8" cy="460.6" r="0.87"/><circle cx="736.2" cy="462.6" r="0.92"/><circle cx="736.6" cy="458.0" r="0.98"/><circle cx="735.3" cy="462.6" r="1.00"/><circle cx="749.1" cy="453.1" r="1.29"/><circle cx="736.9" cy="457.8" r="0.81"/><circle cx="740.5" cy="458.1" r="1.15"/><circle cx="738.8" cy="455.5" r="0.91"/><circle cx="743.2" cy="454.7" r="1.20"/><circle cx="739.8" cy="454.6" r="0.86"/><circle cx="749.4" cy="464.8" r="1.12"/><circle cx="741.7" cy="460.6" r="0.91"/><circle cx="754.1" cy="457.0" r="1.12"/><circle cx="741.7" cy="456.0" r="1.07"/><circle cx="738.9" cy="465.5" r="0.93"/><circle cx="739.4" cy="455.3" r="1.01"/><circle cx="748.0" cy="455.8" r="0.92"/><circle cx="737.5" cy="459.2" r="1.01"/><circle cx="745.9" cy="462.2" r="0.98"/><circle cx="746.4" cy="455.3" r="0.85"/><circle cx="749.4" cy="456.9" r="0.88"/><circle cx="745.2" cy="464.3" r="1.13"/><circle cx="751.0" cy="454.4" r="1.15"/><circle cx="743.3" cy="463.6" r="1.02"/><circle cx="752.1" cy="460.4" r="0.93"/><circle cx="741.7" cy="453.5" r="1.05"/><circle cx="742.5" cy="460.2" r="1.23"/><circle cx="741.7" cy="460.6" r="1.13"/><circle cx="751.0" cy="457.4" r="1.01"/><circle cx="754.0" cy="452.3" r="1.12"/><circle cx="745.2" cy="462.6" r="1.27"/><circle cx="742.8" cy="459.2" r="1.25"/><circle cx="730.8" cy="463.2" r="1.11"/><circle cx="738.5" cy="465.6" r="0.98"/><circle cx="741.9" cy="459.9" r="1.19"/><circle cx="735.3" cy="458.4" r="1.01"/><circle cx="743.9" cy="465.1" r="0.95"/><circle cx="750.7" cy="457.9" r="1.05"/><circle cx="736.8" cy="459.6" r="1.29"/><circle cx="746.4" cy="464.5" r="0.97"/><circle cx="737.9" cy="456.1" r="1.09"/><circle cx="745.9" cy="464.3" r="0.82"/><circle cx="748.1" cy="466.1" r="1.07"/><circle cx="746.5" cy="464.4" r="1.25"/><circle cx="745.3" cy="461.5" r="1.11"/><circle cx="747.4" cy="461.1" r="1.14"/><circle cx="735.3" cy="462.3" r="1.03"/><circle cx="749.1" cy="452.7" r="0.89"/><circle cx="739.2" cy="465.0" r="1.19"/><circle cx="744.1" cy="455.4" r="0.95"/><circle cx="740.5" cy="456.4" r="1.02"/><circle cx="746.0" cy="466.9" r="0.83"/><circle cx="744.4" cy="466.6" r="1.02"/><circle cx="730.4" cy="457.6" r="1.10"/><circle cx="741.9" cy="458.0" r="0.85"/><circle cx="746.1" cy="454.6" r="0.88"/><circle cx="747.1" cy="453.1" r="1.28"/><circle cx="748.0" cy="455.1" r="1.17"/><circle cx="749.4" cy="463.1" r="1.23"/><circle cx="748.2" cy="452.4" r="1.11"/><circle cx="747.7" cy="458.8" r="1.27"/><circle cx="730.4" cy="462.1" r="1.21"/><circle cx="748.2" cy="453.8" r="1.23"/><circle cx="739.2" cy="460.8" r="1.02"/><circle cx="746.9" cy="453.5" r="1.20"/><circle cx="739.1" cy="462.0" r="1.11"/><circle cx="740.4" cy="457.6" r="1.19"/><circle cx="744.2" cy="456.0" r="0.83"/><circle cx="750.7" cy="456.6" r="1.10"/><circle cx="745.0" cy="456.2" r="1.01"/><circle cx="752.2" cy="457.4" r="1.14"/><circle cx="745.0" cy="466.2" r="1.20"/><circle cx="736.6" cy="458.2" r="1.09"/><circle cx="744.3" cy="455.7" r="1.23"/><circle cx="750.2" cy="462.6" r="1.26"/><circle cx="743.8" cy="464.6" r="0.90"/><circle cx="735.9" cy="461.3" r="1.14"/><circle cx="741.6" cy="454.5" r="0.93"/><circle cx="748.8" cy="464.5" r="1.03"/><circle cx="749.3" cy="455.0" r="1.09"/><circle cx="743.0" cy="459.1" r="1.09"/><circle cx="734.5" cy="462.9" r="0.98"/><circle cx="744.1" cy="457.8" r="1.06"/><circle cx="732.7" cy="461.8" r="1.19"/><circle cx="733.9" cy="461.2" r="0.97"/><circle cx="751.7" cy="459.3" r="1.08"/><circle cx="736.5" cy="464.2" r="1.01"/><circle cx="743.9" cy="465.8" r="1.03"/><circle cx="731.6" cy="461.2" r="1.00"/><circle cx="736.4" cy="460.6" r="1.12"/><circle cx="739.8" cy="458.6" r="0.88"/><circle cx="736.4" cy="457.0" r="1.25"/><circle cx="747.7" cy="462.0" r="1.29"/><circle cx="746.9" cy="456.1" r="1.10"/><circle cx="748.9" cy="452.8" r="0.96"/><circle cx="742.0" cy="453.9" r="0.92"/><circle cx="733.6" cy="462.5" r="0.81"/><circle cx="747.9" cy="454.3" r="0.82"/><circle cx="753.2" cy="454.7" r="1.27"/><circle cx="733.5" cy="458.6" r="0.85"/><circle cx="745.7" cy="458.7" r="0.97"/><circle cx="750.6" cy="459.1" r="1.11"/><circle cx="731.4" cy="463.1" r="1.08"/><circle cx="736.7" cy="458.0" r="0.88"/><circle cx="736.8" cy="465.3" r="0.97"/><circle cx="734.2" cy="459.3" r="0.96"/><circle cx="752.6" cy="452.9" r="1.29"/><circle cx="746.7" cy="454.6" r="1.04"/><circle cx="737.2" cy="455.4" r="0.90"/><circle cx="752.4" cy="452.0" r="1.16"/><circle cx="743.2" cy="454.2" r="1.02"/><circle cx="752.8" cy="454.7" r="1.09"/><circle cx="749.3" cy="463.1" r="0.90"/><circle cx="745.2" cy="459.4" r="0.94"/><circle cx="735.2" cy="461.4" r="1.15"/><circle cx="750.3" cy="460.9" r="0.90"/><circle cx="731.6" cy="463.5" r="1.00"/><circle cx="748.0" cy="451.9" r="1.21"/><circle cx="738.4" cy="465.3" r="1.23"/><circle cx="752.8" cy="459.1" r="1.24"/><circle cx="750.8" cy="457.2" r="0.88"/><circle cx="739.3" cy="461.1" r="0.80"/><circle cx="743.0" cy="458.6" r="1.06"/><circle cx="733.0" cy="463.1" r="1.21"/><circle cx="751.6" cy="456.5" r="1.16"/><circle cx="739.5" cy="463.8" r="0.83"/><circle cx="742.4" cy="459.7" r="1.07"/><circle cx="754.2" cy="454.8" r="0.89"/><circle cx="732.4" cy="462.9" r="0.90"/><circle cx="730.4" cy="461.2" r="1.09"/><circle cx="743.1" cy="462.9" r="0.85"/><circle cx="742.3" cy="459.5" r="0.94"/><circle cx="733.1" cy="457.9" r="0.87"/><circle cx="744.8" cy="465.6" r="0.87"/><circle cx="744.3" cy="463.7" r="0.88"/><circle cx="739.7" cy="458.1" r="1.22"/><circle cx="743.1" cy="457.7" r="1.27"/><circle cx="749.4" cy="456.8" r="0.92"/><circle cx="738.4" cy="458.4" r="1.29"/><circle cx="731.3" cy="459.8" r="1.28"/><circle cx="753.4" cy="455.2" r="1.01"/><circle cx="745.8" cy="457.2" r="1.07"/><circle cx="731.7" cy="458.4" r="1.05"/><circle cx="752.1" cy="451.6" r="1.12"/><circle cx="736.6" cy="462.5" r="0.94"/><circle cx="743.6" cy="466.7" r="1.11"/><circle cx="736.3" cy="459.8" r="1.02"/><circle cx="753.8" cy="455.9" r="0.95"/><circle cx="746.2" cy="453.0" r="1.10"/><circle cx="736.7" cy="458.9" r="1.07"/><circle cx="733.3" cy="456.0" r="1.00"/><circle cx="737.2" cy="455.1" r="0.84"/><circle cx="743.7" cy="465.3" r="1.10"/><circle cx="744.3" cy="462.1" r="0.90"/><circle cx="747.8" cy="458.8" r="1.07"/><circle cx="745.3" cy="459.0" r="0.96"/><circle cx="742.8" cy="457.5" r="1.09"/><circle cx="730.3" cy="457.0" r="1.23"/><circle cx="736.0" cy="460.5" r="1.05"/><circle cx="737.4" cy="464.1" r="0.88"/><circle cx="739.7" cy="458.5" r="1.17"/><circle cx="733.9" cy="456.7" r="0.98"/><circle cx="746.9" cy="461.5" r="1.22"/><circle cx="750.5" cy="459.8" r="1.17"/><circle cx="748.6" cy="463.9" r="1.04"/><circle cx="749.6" cy="463.0" r="1.26"/><circle cx="744.6" cy="459.5" r="1.28"/><circle cx="744.3" cy="458.1" r="1.19"/><circle cx="751.8" cy="461.3" r="0.99"/><circle cx="741.3" cy="458.8" r="1.16"/><circle cx="737.3" cy="457.6" r="1.08"/><circle cx="739.6" cy="456.5" r="1.19"/><circle cx="751.2" cy="459.5" r="1.02"/><circle cx="734.6" cy="456.2" r="0.87"/><circle cx="744.4" cy="460.9" r="0.84"/><circle cx="753.0" cy="456.5" r="1.22"/><circle cx="735.1" cy="458.2" r="1.26"/><circle cx="744.1" cy="459.5" r="1.26"/><circle cx="749.3" cy="460.2" r="1.30"/><circle cx="742.9" cy="459.8" r="1.14"/><circle cx="739.7" cy="457.1" r="1.10"/><circle cx="746.9" cy="459.9" r="0.85"/><circle cx="739.4" cy="457.8" r="1.08"/><circle cx="744.4" cy="466.0" r="1.28"/><circle cx="742.2" cy="458.5" r="1.11"/><circle cx="743.3" cy="464.9" r="0.89"/><circle cx="750.7" cy="459.7" r="0.86"/><circle cx="752.2" cy="458.2" r="0.88"/><circle cx="737.2" cy="459.7" r="1.05"/><circle cx="745.8" cy="461.3" r="0.98"/><circle cx="731.1" cy="458.0" r="1.19"/><circle cx="737.7" cy="462.7" r="0.80"/><circle cx="737.6" cy="465.3" r="1.09"/><circle cx="691.1" cy="384.5" r="0.68"/><circle cx="692.2" cy="381.4" r="0.77"/><circle cx="695.2" cy="381.7" r="0.80"/><circle cx="696.8" cy="378.9" r="0.90"/><circle cx="699.5" cy="380.3" r="0.74"/><circle cx="701.2" cy="377.5" r="0.66"/><circle cx="704.0" cy="379.4" r="0.65"/><circle cx="705.9" cy="376.4" r="0.67"/><circle cx="708.2" cy="378.6" r="0.85"/><circle cx="710.4" cy="376.6" r="0.85"/><circle cx="712.6" cy="378.0" r="0.62"/><circle cx="714.8" cy="376.5" r="0.71"/><circle cx="716.8" cy="378.4" r="0.72"/><circle cx="719.2" cy="376.2" r="0.69"/><circle cx="720.9" cy="378.5" r="0.87"/><circle cx="723.1" cy="377.2" r="0.72"/><circle cx="724.9" cy="379.3" r="0.73"/><circle cx="727.2" cy="377.4" r="0.87"/><circle cx="728.6" cy="380.0" r="0.89"/><circle cx="731.3" cy="378.7" r="0.79"/><circle cx="732.7" cy="381.2" r="0.63"/><circle cx="735.2" cy="380.5" r="0.86"/><circle cx="736.7" cy="382.6" r="0.87"/><circle cx="739.4" cy="381.8" r="0.71"/><circle cx="740.3" cy="384.5" r="0.89"/><circle cx="743.1" cy="383.7" r="0.89"/><circle cx="744.0" cy="386.3" r="0.73"/><circle cx="746.6" cy="385.9" r="0.68"/><circle cx="747.4" cy="388.2" r="0.87"/><circle cx="750.3" cy="388.3" r="0.84"/><circle cx="750.7" cy="391.1" r="0.67"/><circle cx="753.6" cy="391.2" r="0.67"/><circle cx="753.3" cy="394.2" r="0.70"/><circle cx="756.6" cy="395.2" r="0.65"/><circle cx="756.1" cy="398.4" r="0.73"/><circle cx="759.4" cy="399.8" r="0.64"/><circle cx="758.0" cy="402.1" r="0.85"/><circle cx="760.1" cy="403.8" r="0.69"/><circle cx="758.7" cy="406.1" r="0.70"/><circle cx="760.9" cy="407.6" r="0.63"/><circle cx="759.5" cy="410.4" r="0.72"/><circle cx="762.5" cy="411.6" r="0.82"/><circle cx="761.4" cy="414.2" r="0.70"/><circle cx="763.4" cy="415.8" r="0.66"/><circle cx="762.4" cy="418.3" r="0.85"/><circle cx="764.8" cy="420.0" r="0.66"/><circle cx="763.2" cy="422.1" r="0.82"/><circle cx="765.3" cy="423.9" r="0.89"/><circle cx="763.6" cy="426.0" r="0.89"/><circle cx="765.5" cy="428.2" r="0.68"/><circle cx="763.2" cy="429.8" r="0.66"/><circle cx="764.7" cy="432.1" r="0.69"/><circle cx="762.2" cy="433.8" r="0.78"/><circle cx="764.2" cy="436.5" r="0.69"/><circle cx="761.2" cy="437.7" r="0.68"/><circle cx="761.8" cy="440.6" r="0.65"/><circle cx="759.4" cy="441.9" r="0.77"/><circle cx="759.7" cy="444.9" r="0.84"/><circle cx="756.7" cy="445.2" r="0.80"/></g><path d="M676.6 383.6L677.4 382.3L678.2 383.0L679.6 381.8L680.7 382.0L682.7 382.2L684.1 381.6L684.7 383.5L685.0 385.9L685.9 386.8L686.7 389.2L686.2 391.1L684.3 391.6L682.7 393.5L682.7 394.0L680.8 395.8L680.1 394.8L679.0 394.9L677.3 394.4L675.7 394.0L676.5 391.8L674.6 388.6L675.2 387.1L675.8 385.6Z" fill="#000"/><path d="M650.7 416.2L653.1 414.4L654.8 413.6L655.9 411.6L656.9 411.0L658.2 408.4L660.6 408.5L660.4 408.5L662.3 410.9L661.7 411.5L663.0 414.0L664.3 415.7L666.4 415.8L664.4 416.9L662.4 418.2L659.6 417.5L659.1 417.9L657.4 418.1L655.4 418.2L654.1 417.1L651.9 417.2Z" fill="#000"/><g fill="#fff" stroke="none"><circle cx="749.2" cy="465.1" r="0.48"/><circle cx="737.2" cy="457.1" r="0.50"/><circle cx="734.9" cy="462.9" r="0.56"/><circle cx="732.8" cy="456.5" r="0.57"/><circle cx="732.1" cy="463.2" r="0.70"/><circle cx="744.1" cy="452.8" r="0.57"/><circle cx="740.9" cy="454.2" r="0.59"/><circle cx="746.1" cy="461.7" r="0.68"/><circle cx="746.3" cy="455.3" r="0.51"/><circle cx="749.4" cy="465.3" r="0.52"/><circle cx="734.6" cy="461.8" r="0.66"/><circle cx="753.2" cy="453.9" r="0.65"/><circle cx="750.8" cy="463.6" r="0.53"/><circle cx="738.0" cy="457.3" r="0.59"/><circle cx="739.2" cy="465.1" r="0.51"/><circle cx="731.0" cy="460.6" r="0.61"/><circle cx="680.1" cy="388.7" r="0.54"/><circle cx="676.9" cy="392.2" r="0.36"/><circle cx="683.1" cy="392.8" r="0.40"/><circle cx="681.4" cy="395.1" r="0.48"/><circle cx="681.4" cy="385.0" r="0.36"/><circle cx="679.4" cy="387.3" r="0.39"/><circle cx="678.9" cy="383.4" r="0.49"/><circle cx="661.2" cy="410.4" r="0.39"/><circle cx="659.0" cy="412.5" r="0.49"/><circle cx="656.6" cy="411.1" r="0.48"/><circle cx="656.3" cy="416.3" r="0.43"/><circle cx="661.2" cy="414.1" r="0.42"/></g>
<g fill="#000" stroke="#000" stroke-width="0.22" font-family="'Liberation Sans', sans-serif">
<text x="381.3" y="28.4" font-size="17.5" textLength="121.5" lengthAdjust="spacingAndGlyphs" font-weight="bold" stroke-width="0.08">AVN-STAGES</text>
<text x="117.3" y="239.4" font-size="17.5" textLength="57.3" lengthAdjust="spacingAndGlyphs">Normal</text>
<text x="323" y="239.5" font-size="17.5" textLength="193.4" lengthAdjust="spacingAndGlyphs">Multiple microinfarctions</text>
<text x="323" y="261.6" font-size="17.5" textLength="224.3" lengthAdjust="spacingAndGlyphs">microedemata (in Histology)</text>
<text x="390.3" y="287.6" font-size="16.5" textLength="83" lengthAdjust="spacingAndGlyphs" font-weight="bold" stroke-width="0.08">(ARCO 0)</text>
<text x="653.9" y="239.6" font-size="17.5" textLength="131.7" lengthAdjust="spacingAndGlyphs">Crescent edema</text>
<text x="678.8" y="289.6" font-size="17.5" textLength="60" lengthAdjust="spacingAndGlyphs" font-weight="bold" stroke-width="0.08">(ARCO</text>
<text x="745.2" y="289.5" font-size="20.5" textLength="7.4" lengthAdjust="spacingAndGlyphs" font-weight="bold" stroke="#000" stroke-width="0.9" font-family="'Liberation Serif', serif">I</text>
<text x="753.8" y="289.6" font-size="17.5" textLength="5.1" lengthAdjust="spacingAndGlyphs" font-weight="bold" stroke-width="0.08">)</text>
<text x="569.6" y="325.0" font-size="17.5" textLength="263.5" lengthAdjust="spacingAndGlyphs" font-weight="bold" stroke-width="0.08">TRANSIENT OSTEOPOROSIS</text>
<text x="46.6" y="533.5" font-size="17.5" textLength="210.1" lengthAdjust="spacingAndGlyphs">Necrosis and demarcation</text>
<text x="56.3" y="555.8" font-size="17.5" textLength="188.5" lengthAdjust="spacingAndGlyphs">(with or without edema)</text>
<text x="111.8" y="582.6" font-size="17.5" textLength="60.3" lengthAdjust="spacingAndGlyphs" font-weight="bold" stroke-width="0.08">(ARCO</text>
<text x="179.1" y="582.5" font-size="20.5" textLength="14.7" lengthAdjust="spacingAndGlyphs" font-weight="bold" stroke="#000" stroke-width="0.9" font-family="'Liberation Serif', serif">II</text>
<text x="194.7" y="582.6" font-size="17.5" textLength="5.4" lengthAdjust="spacingAndGlyphs" font-weight="bold" stroke-width="0.08">)</text>
<text x="284.2" y="535.0" font-size="17.5" textLength="229" lengthAdjust="spacingAndGlyphs">Microfracture (crescent sign)</text>
<text x="351.3" y="583.6" font-size="17.5" textLength="59.8" lengthAdjust="spacingAndGlyphs" font-weight="bold" stroke-width="0.08">(ARCO</text>
<text x="418.5" y="583.6" font-size="20.5" textLength="23.1" lengthAdjust="spacingAndGlyphs" font-weight="bold" stroke="#000" stroke-width="0.9" font-family="'Liberation Serif', serif">III</text>
<text x="443.3" y="583.6" font-size="17.5" textLength="5.5" lengthAdjust="spacingAndGlyphs" font-weight="bold" stroke-width="0.08">)</text>
<text x="611.5" y="541" font-size="17.5" textLength="189.1" lengthAdjust="spacingAndGlyphs">Large medullary edema</text>
<text x="611.5" y="563.3" font-size="17.5" textLength="137.2" lengthAdjust="spacingAndGlyphs">and joint effusion</text>
</g>
</svg>
</body></html>
